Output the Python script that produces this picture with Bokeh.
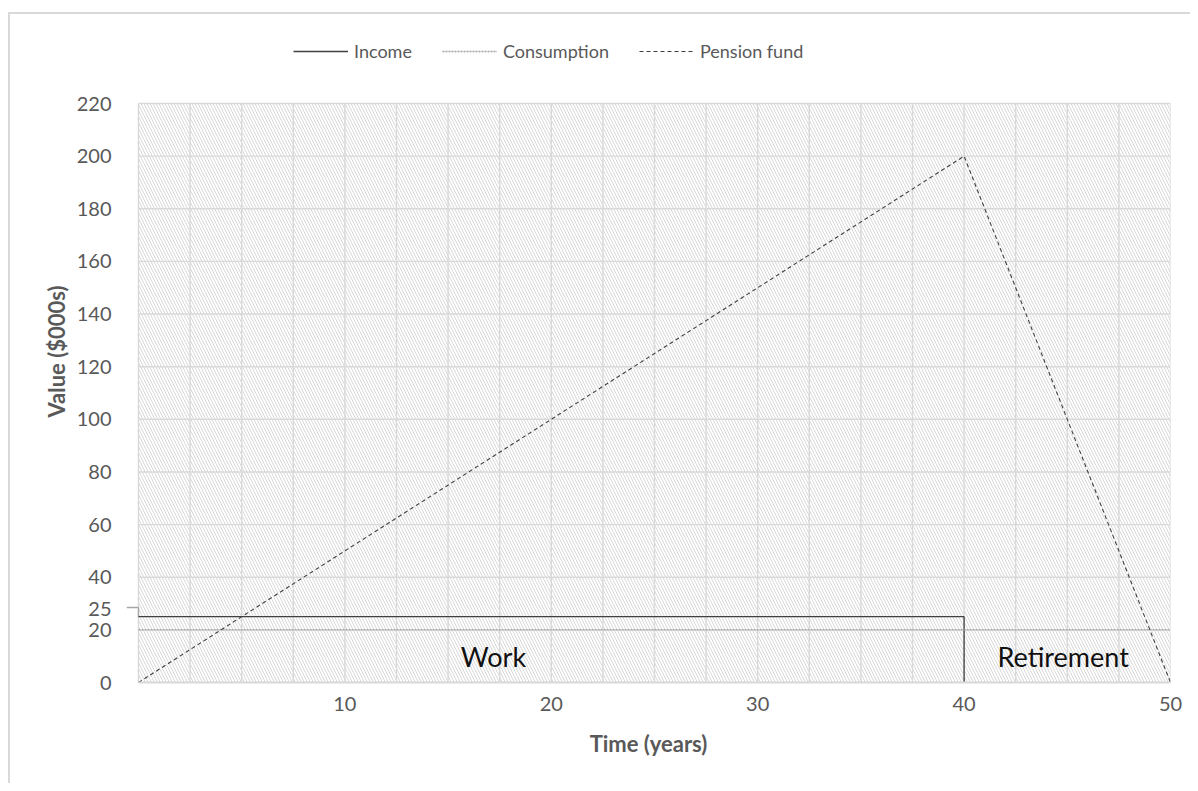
from bokeh.plotting import figure
from bokeh.models import Range1d, FixedTicker, Legend, LegendItem
from bokeh.core.properties import value
from bokeh.embed import file_html
from bokeh.resources import INLINE

# ---- data ----
years_income = [0, 40, 40]
income = [25, 25, 0]
years_consumption = [0, 50]
consumption = [20, 20]
years_pension = [0, 40, 50]
pension = [0, 200, 0]

x_ticks = [10, 20, 30, 40, 50]
x_grid = [0, 2.5, 5, 7.5, 10, 12.5, 15, 17.5, 20, 22.5, 25, 27.5, 30, 32.5, 35,
          37.5, 40, 42.5, 45, 47.5, 50]
y_ticks = [0, 20, 40, 60, 80, 100, 120, 140, 160, 180, 200, 220]
income_label_text = "25"
phase_names = ["Work", "Retirement"]
phase_x = [17.2, 44.8]
phase_y = [10, 10]

FONT = "Lato"
GRAY_TXT = "#595959"
GRID = "#d9d9d9"
X0, X1 = 0, 50          # time span of the chart
Y0, Y1 = 0, 220         # value span of the chart
LEADER_X = -0.58        # small leader to the "25" label, left of the plot area
LEADER_Y = 28.5
LABEL25_POS = 28        # where the "25" tick label sits (slightly above the line)

# layout (pixels): drawing frame extends above the chart area to host the legend
W, H = 1190, 783
FRAME_L, FRAME_R, FRAME_T, FRAME_B = 126, 1170, 20, 682
AREA_T = 103            # top of the value area (Y1)
px_per_unit = (FRAME_B - AREA_T) / (Y1 - Y0)
Y_TOP = Y1 + (AREA_T - FRAME_T) / px_per_unit

p = figure(width=W, height=H, output_backend="svg", toolbar_location=None,
           x_range=Range1d(LEADER_X, X1), y_range=Range1d(Y0, Y_TOP),
           min_border_left=FRAME_L, min_border_right=W - FRAME_R,
           min_border_top=FRAME_T, min_border_bottom=H - FRAME_B)
p.outline_line_color = None
p.background_fill_color = "white"
p.border_fill_alpha = 0
p.styles = {
    "background-color": "white",
    "background-image": f"linear-gradient({GRID},{GRID}), linear-gradient({GRID},{GRID})",
    "background-size": "2px 100%, 100% 2px",
    "background-position": "8px 12px, 8px 12px",
    "background-repeat": "no-repeat",
}

# hatched plot area
p.quad(left=[X0], right=[X1], bottom=[Y0], top=[Y1], fill_alpha=0,
       line_color=None, hatch_pattern="\\", hatch_color="#d4d4d4",
       hatch_scale=6, hatch_weight=0.9)

# grid lines (limited to the value area)
p.xgrid.grid_line_color = None
p.ygrid.grid_line_color = None
p.segment(x0=x_grid, x1=x_grid, y0=[Y0] * len(x_grid), y1=[Y1] * len(x_grid),
          line_color=GRID, line_width=1.4)
p.segment(x0=[X0] * len(y_ticks), x1=[X1] * len(y_ticks), y0=y_ticks, y1=y_ticks,
          line_color=GRID, line_width=1.4)

# axes
p.xaxis.ticker = FixedTicker(ticks=x_ticks)
p.xaxis.bounds = (X0, X1)
p.yaxis.ticker = FixedTicker(ticks=y_ticks + [LABEL25_POS])
p.yaxis.major_label_overrides = {LABEL25_POS: income_label_text}
for ax in (p.xaxis, p.yaxis):
    ax.major_tick_line_color = None
    ax.minor_tick_line_color = None
    ax.major_label_text_font = FONT
    ax.major_label_text_font_size = "20px"
    ax.major_label_text_color = GRAY_TXT
    ax.axis_label_text_font = FONT
    ax.axis_label_text_font_size = "22px"
    ax.axis_label_text_font_style = "bold"
    ax.axis_label_text_color = GRAY_TXT
p.xaxis.axis_line_color = GRID
p.xaxis.axis_line_width = 2
p.yaxis.axis_line_color = None
p.xaxis.major_label_standoff = 8
p.yaxis.major_label_standoff = 9
p.xaxis.axis_label = "Time (years)"
p.yaxis.axis_label = "Value ($000s)"
p.xaxis.axis_label_standoff = 16
p.yaxis.axis_label_standoff = 4

# leader for the "25" label
p.line([LEADER_X, X0, X0], [LEADER_Y, LEADER_Y, income[0]],
       line_color="#a6a6a6", line_width=1.3)

# series
r_inc = p.line(years_income, income, line_color="#404040", line_width=1.3)
r_con = p.line(years_consumption, consumption, line_color="#a0a0a0",
               line_width=1.3, line_dash="2 1")
r_pen = p.line(years_pension, pension, line_color="#404040", line_width=1.1,
               line_dash="4 3")

# phase labels
p.text(x=phase_x, y=phase_y, text=phase_names, text_font=value(FONT),
       text_font_size="27px", text_color="#111111", text_align="center",
       text_baseline="middle")

# legend above the value area
legend = Legend(items=[LegendItem(label="Income", renderers=[r_inc]),
                       LegendItem(label="Consumption", renderers=[r_con]),
                       LegendItem(label="Pension fund", renderers=[r_pen])],
                orientation="horizontal", location=(167, 620),
                label_text_font=FONT, label_text_font_size="18px",
                label_text_color=GRAY_TXT, glyph_width=55, glyph_height=20,
                label_standoff=6, spacing=30, padding=0, margin=0,
                background_fill_alpha=0, border_line_color=None)
p.add_layout(legend, "center")

open("out.html", "w").write(file_html(p, INLINE))
